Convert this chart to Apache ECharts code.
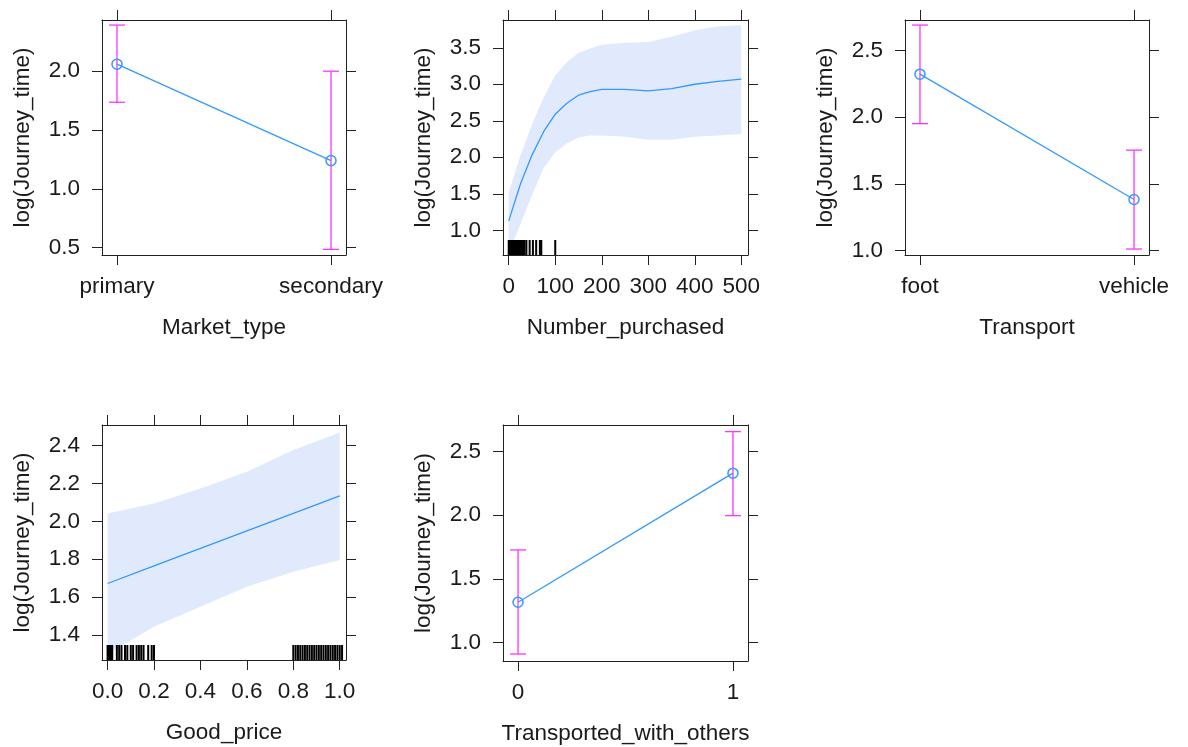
<!DOCTYPE html>
<html>
<head>
<meta charset="utf-8">
<script src="https://cdn.jsdelivr.net/npm/echarts@6/dist/echarts.min.js"></script>
<style>html,body{margin:0;padding:0;background:#fff}#c{width:1188px;height:747px}</style>
</head>
<body>
<div id="c"></div>
<script>
// ---------- data ----------
const yTitle = 'log(Journey_time)';

const marketCats = ['primary', 'secondary'];
const marketFit = [2.06, 1.24];
const marketLower = [1.736, 0.486];
const marketUpper = [2.392, 2.0];
const marketYTicks = [0.5, 1.0, 1.5, 2.0];

const purchasedX = [0, 25, 50, 75, 100, 125, 150, 175, 200, 250, 300, 350, 400, 450, 500];
const purchasedFit = [1.13, 1.63, 2.03, 2.35, 2.59, 2.74, 2.85, 2.90, 2.93, 2.93, 2.91, 2.94, 3.00, 3.04, 3.07];
const purchasedUpper = [1.52, 2.02, 2.45, 2.82, 3.12, 3.30, 3.43, 3.49, 3.54, 3.57, 3.58, 3.65, 3.74, 3.79, 3.81];
const purchasedLower = [0.70, 1.08, 1.48, 1.85, 2.07, 2.19, 2.27, 2.30, 2.30, 2.28, 2.24, 2.24, 2.28, 2.30, 2.32];
const purchasedRug = [0, 2, 4, 6, 8, 10, 12, 14, 16, 18, 20, 22, 24, 26, 28, 30, 32, 34, 38, 45, 52, 59, 67, 70, 100];
const purchasedXTicks = [0, 100, 200, 300, 400, 500];
const purchasedYTicks = [1.0, 1.5, 2.0, 2.5, 3.0, 3.5];

const transportCats = ['foot', 'vehicle'];
const transportFit = [2.324, 1.382];
const transportLower = [1.952, 1.01];
const transportUpper = [2.693, 1.753];
const transportYTicks = [1.0, 1.5, 2.0, 2.5];

const priceX = [0, 0.2, 0.4, 0.6, 0.8, 1.0];
const priceFit = [1.672, 1.765, 1.857, 1.950, 2.042, 2.135];
const priceUpper = [2.042, 2.095, 2.174, 2.262, 2.377, 2.470];
const priceLower = [1.300, 1.444, 1.549, 1.655, 1.734, 1.796];
const priceRug = [0, 0.005, 0.01, 0.015, 0.02, 0.04, 0.05, 0.06, 0.075, 0.085, 0.1, 0.11, 0.125, 0.135, 0.145, 0.155, 0.175, 0.19, 0.2,
  0.8, 0.81, 0.82, 0.83, 0.84, 0.85, 0.86, 0.87, 0.88, 0.89, 0.9, 0.91, 0.92, 0.93, 0.94, 0.95, 0.96, 0.97, 0.98, 0.99, 1.0, 1.01];
const priceXTicks = [0, 0.2, 0.4, 0.6, 0.8, 1.0];
const priceYTicks = [1.4, 1.6, 1.8, 2.0, 2.2, 2.4];

const othersCats = ['0', '1'];
const othersFit = [1.315, 2.331];
const othersLower = [0.908, 1.997];
const othersUpper = [1.727, 2.658];
const othersYTicks = [1.0, 1.5, 2.0, 2.5];

// ---------- styling ----------
const FONT = 'Liberation Sans';
const FS = 22.5;
const TXT = '#1a1a1a';
const AX = '#222';
const BLUE = '#3399ff';
const MAG = '#ff33ff';
const BAND = '#e0eafc';

const grids = [
  {left: 102, top: 20, width: 244, height: 235},
  {left: 503, top: 20, width: 245, height: 235},
  {left: 905, top: 20, width: 244, height: 235},
  {left: 102, top: 425, width: 244, height: 235},
  {left: 503, top: 425, width: 245, height: 236}
];

const xAxes = [];
const yAxes = [];
const series = [];

function addX(g, min, max, ticks, fmt, name) {
  xAxes.push({
    gridIndex: g, type: 'value', position: 'bottom', min: min, max: max,
    name: name, nameLocation: 'middle', nameGap: 61,
    nameTextStyle: {fontFamily: FONT, fontSize: FS, color: TXT},
    axisLine: {show: true, onZero: false, lineStyle: {color: AX, width: 1}},
    axisTick: {show: true, customValues: ticks, length: 10, lineStyle: {color: AX}},
    axisLabel: {show: true, customValues: ticks, formatter: fmt, margin: 20, fontFamily: FONT, fontSize: FS, color: TXT},
    splitLine: {show: false}
  });
  xAxes.push({
    gridIndex: g, type: 'value', position: 'top', min: min, max: max,
    axisLine: {show: true, onZero: false, lineStyle: {color: AX, width: 1}},
    axisTick: {show: true, customValues: ticks, length: 10, lineStyle: {color: AX}},
    axisLabel: {show: false},
    splitLine: {show: false}
  });
  return xAxes.length - 2;
}
function addY(g, min, max, ticks) {
  yAxes.push({
    gridIndex: g, type: 'value', position: 'left', min: min, max: max,
    name: yTitle, nameLocation: 'middle', nameGap: 68,
    nameTextStyle: {fontFamily: FONT, fontSize: FS, color: TXT},
    axisLine: {show: true, onZero: false, lineStyle: {color: AX, width: 1}},
    axisTick: {show: true, customValues: ticks, length: 10, lineStyle: {color: AX}},
    axisLabel: {show: true, customValues: ticks, margin: 22, fontFamily: FONT, fontSize: FS, color: TXT,
      formatter: v => (+v).toFixed(1)},
    splitLine: {show: false}
  });
  yAxes.push({
    gridIndex: g, type: 'value', position: 'right', min: min, max: max,
    axisLine: {show: true, onZero: false, lineStyle: {color: AX, width: 1}},
    axisTick: {show: true, customValues: ticks, length: 10, lineStyle: {color: AX}},
    axisLabel: {show: false},
    splitLine: {show: false}
  });
  return yAxes.length - 2;
}

function factorPanel(g, cats, fit, lower, upper, ymin, ymax, yticks, name) {
  const xi = addX(g, -0.07, 1.07, [0, 1], v => cats[Math.round(v)], name);
  const yi = addY(g, ymin, ymax, yticks);
  series.push({
    type: 'custom', xAxisIndex: xi, yAxisIndex: yi, z: 2,
    data: cats.map((c, i) => [i, lower[i], upper[i]]),
    renderItem: function (params, api) {
      const a = api.coord([api.value(0), api.value(1)]);
      const b = api.coord([api.value(0), api.value(2)]);
      const st = {stroke: MAG, lineWidth: 1.3, fill: null};
      return {type: 'group', children: [
        {type: 'line', shape: {x1: a[0], y1: a[1], x2: b[0], y2: b[1]}, style: st},
        {type: 'line', shape: {x1: a[0] - 8, y1: a[1], x2: a[0] + 8, y2: a[1]}, style: st},
        {type: 'line', shape: {x1: b[0] - 8, y1: b[1], x2: b[0] + 8, y2: b[1]}, style: st}
      ]};
    }
  });
  series.push({
    type: 'line', xAxisIndex: xi, yAxisIndex: yi, z: 3,
    data: cats.map((c, i) => [i, fit[i]]),
    symbol: 'circle', symbolSize: 10, showSymbol: true,
    lineStyle: {color: BLUE, width: 1.3},
    itemStyle: {color: 'rgba(0,0,0,0)', borderColor: BLUE, borderWidth: 1.5}
  });
}

function curvePanel(g, xs, fit, lower, upper, rug, xmin, xmax, xticks, ymin, ymax, yticks, name, xfmt) {
  const xi = addX(g, xmin, xmax, xticks, xfmt, name);
  const yi = addY(g, ymin, ymax, yticks);
  series.push({
    type: 'custom', xAxisIndex: xi, yAxisIndex: yi, z: 1, clip: true,
    data: [[xs[0], fit[0]]],
    renderItem: function (params, api) {
      const pts = [];
      for (let i = 0; i < xs.length; i++) pts.push(api.coord([xs[i], upper[i]]));
      for (let i = xs.length - 1; i >= 0; i--) pts.push(api.coord([xs[i], lower[i]]));
      return {type: 'polygon', shape: {points: pts}, style: {fill: BAND, stroke: null}};
    }
  });
  series.push({
    type: 'line', xAxisIndex: xi, yAxisIndex: yi, z: 3,
    data: xs.map((x, i) => [x, fit[i]]),
    showSymbol: false, symbol: 'none',
    lineStyle: {color: BLUE, width: 1.3}
  });
  series.push({
    type: 'custom', xAxisIndex: xi, yAxisIndex: yi, z: 4,
    data: rug.map(v => [v, ymin]),
    renderItem: function (params, api) {
      const p = api.coord([api.value(0), api.value(1)]);
      const cs = params.coordSys;
      const yb = cs.y + cs.height;
      return {type: 'line', shape: {x1: p[0], y1: yb, x2: p[0], y2: yb - 15}, style: {stroke: '#000', lineWidth: 2}};
    }
  });
}

factorPanel(0, marketCats, marketFit, marketLower, marketUpper, 0.438, 2.435, marketYTicks, 'Market_type');
curvePanel(1, purchasedX, purchasedFit, purchasedLower, purchasedUpper, purchasedRug,
  -12.3, 514.4, purchasedXTicks, 0.662, 3.88, purchasedYTicks, 'Number_purchased', v => String(Math.round(v)));
factorPanel(2, transportCats, transportFit, transportLower, transportUpper, 0.965, 2.731, transportYTicks, 'Transport');
curvePanel(3, priceX, priceFit, priceLower, priceUpper, priceRug,
  -0.024, 1.027, priceXTicks, 1.268, 2.509, priceYTicks, 'Good_price', v => (+v).toFixed(1));
factorPanel(4, othersCats, othersFit, othersLower, othersUpper, 0.853, 2.71, othersYTicks, 'Transported_with_others');

const chart = echarts.init(document.getElementById('c'), null, {renderer: 'canvas'});
chart.setOption({
  animation: false,
  backgroundColor: '#fff',
  grid: grids,
  xAxis: xAxes,
  yAxis: yAxes,
  series: series
});
</script>
</body>
</html>
